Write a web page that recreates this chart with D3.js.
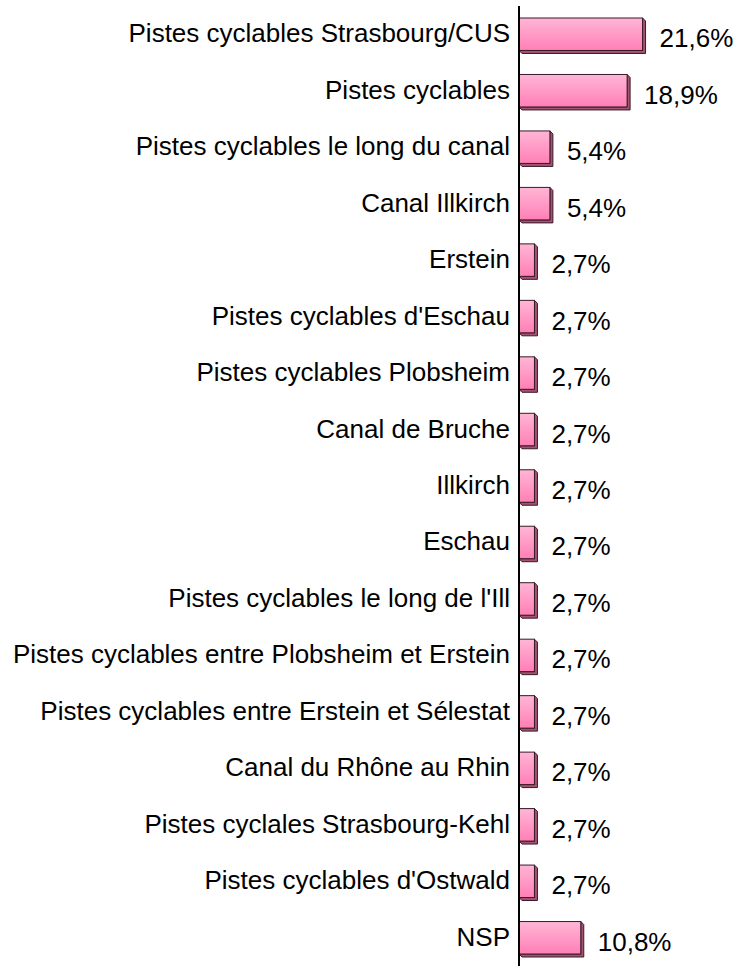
<!DOCTYPE html>
<html>
<head>
<meta charset="utf-8">
<script src="https://cdn.jsdelivr.net/npm/d3@7"></script>
<style>
  body { margin: 0; background: #fff; }
  text { font-family: "Liberation Sans", Arial, sans-serif; fill: #000; }
</style>
</head>
<body>
<div id="container"></div>
<script>
const categories = [
  "Pistes cyclables Strasbourg/CUS",
  "Pistes cyclables",
  "Pistes cyclables le long du canal",
  "Canal Illkirch",
  "Erstein",
  "Pistes cyclables d'Eschau",
  "Pistes cyclables Plobsheim",
  "Canal de Bruche",
  "Illkirch",
  "Eschau",
  "Pistes cyclables le long de l'Ill",
  "Pistes cyclables entre Plobsheim et Erstein",
  "Pistes cyclables entre Erstein et Sélestat",
  "Canal du Rhône au Rhin",
  "Pistes cyclales Strasbourg-Kehl",
  "Pistes cyclables d'Ostwald",
  "NSP"
];
const values = [21.6, 18.9, 5.4, 5.4, 2.7, 2.7, 2.7, 2.7, 2.7, 2.7, 2.7, 2.7, 2.7, 2.7, 2.7, 2.7, 10.8];

const width = 736;
const height = 966;
const axisX = 519;
const depth = 3;

const svg = d3.select("#container")
              .append("svg")
              .attr("width", width)
              .attr("height", height);

const defs = svg.append("defs");
const grad = defs.append("linearGradient")
                 .attr("id", "barGrad")
                 .attr("x1", 0).attr("y1", 0)
                 .attr("x2", 0).attr("y2", 1);
grad.append("stop").attr("offset", "0%").attr("stop-color", "#ffb6d6");
grad.append("stop").attr("offset", "100%").attr("stop-color", "#ff7fb6");

const xScale = d3.scaleLinear()
                 .domain([0, 25])
                 .range([axisX, axisX + 25 * 5.72]);
const yScale = d3.scaleBand()
                 .domain(categories)
                 .range([6, 966])
                 .paddingInner(0.425)
                 .paddingOuter(0.2125);

const rows = svg.selectAll("g.row")
                .data(values)
                .enter()
                .append("g")
                .attr("class", "row");

// side faces (3d depth)
rows.append("path")
    .attr("d", (d, i) => {
      const x0 = xScale(0), x1 = xScale(d);
      const y0 = yScale(categories[i]), y1 = y0 + yScale.bandwidth();
      return "M" + x1 + "," + y0 +
             "L" + (x1 + depth) + "," + (y0 + depth) +
             "L" + (x1 + depth) + "," + (y1 + depth) +
             "L" + (x0 + depth) + "," + (y1 + depth) +
             "L" + x0 + "," + y1 +
             "L" + x1 + "," + y1 + "Z";
    })
    .attr("fill", "#a4536f")
    .attr("stroke", "#3a1a28")
    .attr("stroke-width", 1)
    .attr("stroke-linejoin", "round");

// front faces
rows.append("rect")
    .attr("x", xScale(0))
    .attr("y", (d, i) => yScale(categories[i]))
    .attr("width", (d) => xScale(d) - xScale(0))
    .attr("height", yScale.bandwidth())
    .attr("fill", "url(#barGrad)")
    .attr("stroke", "#3a1a28")
    .attr("stroke-width", 1);

// category labels
rows.append("text")
    .attr("x", 510)
    .attr("y", (d, i) => yScale(categories[i]) + yScale.bandwidth() / 2 + 8)
    .attr("text-anchor", "end")
    .attr("font-size", "26px")
    .text((d, i) => categories[i]);

// value labels
rows.append("text")
    .attr("x", (d) => xScale(d) + 17)
    .attr("y", (d, i) => yScale(categories[i]) + yScale.bandwidth() / 2 + 13)
    .attr("font-size", "26px")
    .text((d) => d.toFixed(1).replace(".", ",") + "%");

// vertical axis line
svg.append("line")
   .attr("x1", axisX).attr("x2", axisX)
   .attr("y1", 6).attr("y2", height)
   .attr("stroke", "#000")
   .attr("stroke-width", 2);
</script>
</body>
</html>
